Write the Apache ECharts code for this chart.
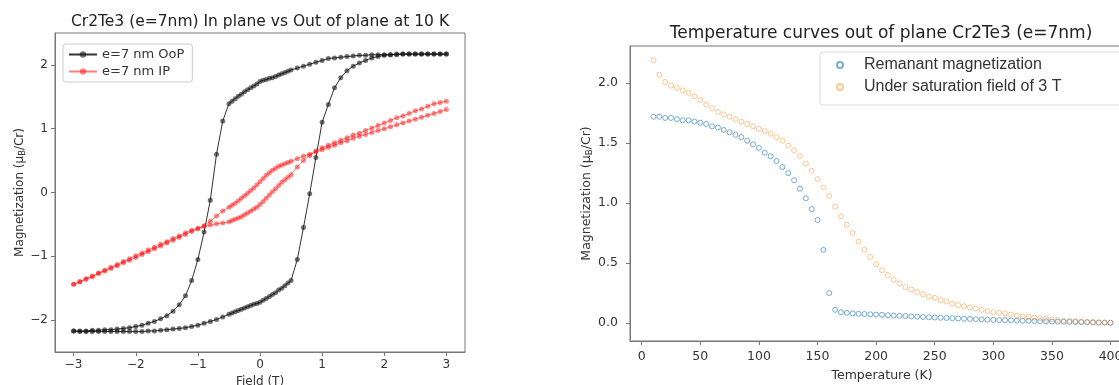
<!DOCTYPE html>
<html>
<head>
<meta charset="utf-8">
<script src="https://cdn.jsdelivr.net/npm/echarts@6/dist/echarts.min.js"></script>
<style>
  html, body { margin: 0; padding: 0; background: #fff; }
  #chart { width: 1119px; height: 385px; }
</style>
</head>
<body>
<div id="chart"></div>
<script>
// ---- left panel: hysteresis loops at 10 K ----
const fieldDown = [3.0, 2.9, 2.8, 2.7, 2.6, 2.5, 2.4, 2.3, 2.2, 2.1, 2.0, 1.9, 1.8, 1.7, 1.6, 1.5, 1.4, 1.3, 1.2, 1.1, 1.0, 0.9, 0.8, 0.7, 0.6,
  0.5, 0.45, 0.4, 0.35, 0.3, 0.25, 0.2, 0.15, 0.1, 0.05, 0, -0.05, -0.1, -0.15, -0.2, -0.25, -0.3, -0.35, -0.4, -0.45, -0.5,
  -0.6, -0.7, -0.8, -0.9, -1.0, -1.1, -1.2, -1.3, -1.4, -1.5, -1.6, -1.7, -1.8, -1.9, -2.0, -2.1, -2.2, -2.3, -2.4, -2.5, -2.6, -2.7, -2.8, -2.9, -3.0];
const fieldUp = [-3.0, -2.9, -2.8, -2.7, -2.6, -2.5, -2.4, -2.3, -2.2, -2.1, -2.0, -1.9, -1.8, -1.7, -1.6, -1.5, -1.4, -1.3, -1.2, -1.1, -1.0, -0.9, -0.8, -0.7, -0.6,
  -0.5, -0.45, -0.4, -0.35, -0.3, -0.25, -0.2, -0.15, -0.1, -0.05, 0, 0.05, 0.1, 0.15, 0.2, 0.25, 0.3, 0.35, 0.4, 0.45, 0.5,
  0.6, 0.7, 0.8, 0.9, 1.0, 1.1, 1.2, 1.3, 1.4, 1.5, 1.6, 1.7, 1.8, 1.9, 2.0, 2.1, 2.2, 2.3, 2.4, 2.5, 2.6, 2.7, 2.8, 2.9, 3.0];

const oopDown = [2.17, 2.17, 2.17, 2.17, 2.17, 2.17, 2.17, 2.17, 2.17, 2.16, 2.16, 2.16, 2.16, 2.15, 2.15, 2.14, 2.13, 2.12, 2.11, 2.10, 2.07, 2.04, 2.01, 1.98, 1.95,
  1.92, 1.90, 1.88, 1.86, 1.84, 1.82, 1.80, 1.79, 1.77, 1.76, 1.74, 1.70, 1.67, 1.64, 1.61, 1.58, 1.54, 1.51, 1.47, 1.43, 1.39,
  1.12, 0.60, -0.12, -0.62, -1.05, -1.38, -1.62, -1.76, -1.86, -1.93, -1.98, -2.02, -2.05, -2.08, -2.10, -2.12, -2.13, -2.14, -2.15, -2.15, -2.16, -2.16, -2.17, -2.17, -2.17];
const oopUp = [-2.17, -2.18, -2.18, -2.18, -2.18, -2.18, -2.18, -2.18, -2.18, -2.18, -2.18, -2.18, -2.17, -2.17, -2.16, -2.15, -2.14, -2.13, -2.12, -2.10, -2.08, -2.05, -2.02, -1.99, -1.95,
  -1.91, -1.89, -1.87, -1.85, -1.83, -1.81, -1.79, -1.77, -1.75, -1.74, -1.72, -1.69, -1.66, -1.63, -1.60, -1.57, -1.53, -1.50, -1.46, -1.42, -1.38,
  -1.05, -0.55, -0.02, 0.55, 1.10, 1.38, 1.64, 1.80, 1.91, 1.98, 2.03, 2.07, 2.11, 2.13, 2.15, 2.16, 2.16, 2.17, 2.17, 2.17, 2.17, 2.17, 2.17, 2.17, 2.17];
const ipDown = [1.30, 1.27, 1.24, 1.21, 1.18, 1.15, 1.12, 1.09, 1.06, 1.03, 1.00, 0.97, 0.94, 0.91, 0.88, 0.85, 0.81, 0.78, 0.74, 0.71, 0.67, 0.64, 0.60, 0.57, 0.53,
  0.49, 0.47, 0.45, 0.43, 0.41, 0.38, 0.35, 0.31, 0.27, 0.22, 0.17, 0.12, 0.07, 0.03, -0.01, -0.05, -0.09, -0.13, -0.17, -0.20, -0.23,
  -0.29, -0.37, -0.45, -0.52, -0.57, -0.61, -0.66, -0.70, -0.75, -0.79, -0.84, -0.88, -0.93, -0.97, -1.02, -1.06, -1.10, -1.15, -1.19, -1.23, -1.27, -1.32, -1.36, -1.40, -1.44];
const ipUp = [-1.44, -1.40, -1.35, -1.31, -1.26, -1.22, -1.17, -1.13, -1.08, -1.04, -0.99, -0.95, -0.90, -0.86, -0.81, -0.77, -0.72, -0.68, -0.63, -0.59, -0.56, -0.53, -0.51, -0.49, -0.48,
  -0.46, -0.44, -0.42, -0.40, -0.38, -0.35, -0.32, -0.29, -0.26, -0.23, -0.19, -0.14, -0.09, -0.04, 0.01, 0.06, 0.11, 0.16, 0.20, 0.24, 0.28,
  0.40, 0.50, 0.58, 0.65, 0.70, 0.74, 0.78, 0.82, 0.86, 0.90, 0.93, 0.97, 1.01, 1.05, 1.09, 1.13, 1.17, 1.20, 1.24, 1.28, 1.31, 1.35, 1.39, 1.41, 1.43];

// ---- right panel: temperature curves ----
const temps = [10, 15, 20, 25, 30, 35, 40, 45, 50, 55, 60, 65, 70, 75, 80, 85, 90, 95, 100, 105, 110, 115, 120, 125, 130, 135, 140, 145, 150, 155,
  160, 165, 170, 175, 180, 185, 190, 195, 200, 205, 210, 215, 220, 225, 230, 235, 240, 245, 250, 255, 260, 265, 270, 275, 280, 285, 290, 295, 300,
  305, 310, 315, 320, 325, 330, 335, 340, 345, 350, 355, 360, 365, 370, 375, 380, 385, 390, 395, 400];
const remanent = [1.72, 1.72, 1.71, 1.71, 1.70, 1.69, 1.69, 1.68, 1.67, 1.66, 1.64, 1.63, 1.61, 1.59, 1.57, 1.55, 1.52, 1.49, 1.46, 1.42, 1.39, 1.35, 1.30, 1.25, 1.19, 1.12, 1.04, 0.95, 0.86, 0.61,
  0.25, 0.11, 0.09, 0.085, 0.08, 0.078, 0.075, 0.072, 0.07, 0.068, 0.065, 0.062, 0.06, 0.058, 0.055, 0.053, 0.05, 0.048, 0.046, 0.044, 0.042, 0.04, 0.038, 0.036, 0.034, 0.032, 0.03, 0.028, 0.026,
  0.025, 0.024, 0.022, 0.02, 0.019, 0.018, 0.016, 0.015, 0.014, 0.012, 0.011, 0.01, 0.009, 0.008, 0.007, 0.006, 0.005, 0.004, 0.003, 0.002];
const saturation = [2.19, 2.07, 2.01, 1.98, 1.96, 1.94, 1.92, 1.89, 1.86, 1.82, 1.79, 1.76, 1.74, 1.72, 1.70, 1.68, 1.66, 1.64, 1.62, 1.60, 1.58, 1.55, 1.52, 1.48, 1.44, 1.39, 1.33, 1.27, 1.20, 1.13,
  1.06, 0.97, 0.89, 0.82, 0.75, 0.68, 0.61, 0.55, 0.49, 0.44, 0.40, 0.36, 0.33, 0.30, 0.28, 0.26, 0.24, 0.22, 0.21, 0.19, 0.18, 0.16, 0.15, 0.14, 0.13, 0.12, 0.11, 0.10, 0.09,
  0.085, 0.08, 0.07, 0.06, 0.055, 0.05, 0.045, 0.04, 0.035, 0.03, 0.025, 0.02, 0.018, 0.015, 0.012, 0.01, 0.008, 0.006, 0.004, 0.002];

// tick labels
const fieldTicks = [-3, -2, -1, 0, 1, 2, 3];
const momentTicks = [-2, -1, 0, 1, 2];
const tempTicks = [0, 50, 100, 150, 200, 250, 300, 350, 400];
const momentTicksT = [0, 0.5, 1.0, 1.5, 2.0];

const FONT = 'DejaVu Sans';
const zip = (xs, ys) => xs.map((x, i) => [x, ys[i]]);
const fmtInt = v => String(v).replace('-', '\u2212');

function valueAxis(grid, min, max, ticks, fmt, name, gap, size, margin) {
  return {
    type: 'value', gridIndex: grid, min: min, max: max,
    name: name, nameLocation: 'middle', nameGap: gap,
    nameTextStyle: {
      fontFamily: FONT, fontSize: size, color: '#333',
      rich: { s: { fontFamily: FONT, fontSize: size * 0.7, color: '#333', padding: [5, 0, 0, 0] } }
    },
    axisLine: { show: true, onZero: false, lineStyle: { color: '#777', width: 1 } },
    axisTick: { show: true, customValues: ticks, length: 4, lineStyle: { color: '#777' } },
    axisLabel: { customValues: ticks, formatter: fmt, fontFamily: FONT, fontSize: size, color: '#333', margin: margin },
    splitLine: { show: false }
  };
}

const chart = echarts.init(document.getElementById('chart'));
chart.setOption({
  animation: false,
  backgroundColor: '#fff',
  grid: [
    { left: 55, right: 654, top: 33, bottom: 33, outerBoundsMode: 'none', show: true, borderColor: '#777', borderWidth: 1 },
    { left: 630, width: 504, top: 46, bottom: 44, outerBoundsMode: 'none', show: true, borderColor: '#777', borderWidth: 1 }
  ],
  graphic: [
    { type: 'text', x: 260, y: 22, style: { text: 'Cr2Te3 (e=7nm) In plane vs Out of plane at 10 K', fontFamily: FONT, fontSize: 15.5, fill: '#222', align: 'center', verticalAlign: 'middle' } },
    { type: 'text', x: 881, y: 34, style: { text: 'Temperature curves out of plane Cr2Te3 (e=7nm)', fontFamily: FONT, fontSize: 17, fill: '#222', align: 'center', verticalAlign: 'middle' } }
  ],
  xAxis: [
    valueAxis(0, -3.3, 3.3, fieldTicks, fmtInt, 'Field (T)', 20, 12, 7),
    valueAxis(1, -10, 420, tempTicks, v => String(v), 'Temperature (K)', 28, 12.5, 9)
  ],
  yAxis: [
    valueAxis(0, -2.5, 2.5, momentTicks, fmtInt, 'Magnetization (μ{s|B}/Cr)', 28, 12, 7),
    valueAxis(1, -0.15, 2.31, momentTicksT, v => v.toFixed(1), 'Magnetization (μ{s|B}/Cr)', 34, 12.5, 12)
  ],
  legend: [
    {
      data: ['e=7 nm OoP', 'e=7 nm IP'], orient: 'vertical', left: 63, top: 44,
      itemWidth: 28, itemHeight: 8, itemGap: 4, padding: [4, 8, 4, 5],
      borderColor: '#ccc', borderWidth: 1, borderRadius: 3, backgroundColor: 'rgba(255,255,255,0.8)',
      textStyle: { fontFamily: FONT, fontSize: 13, color: '#333' }
    },
    {
      data: ['Remanant magnetization', 'Under saturation field of 3 T'], orient: 'vertical', left: 820, top: 52,
      itemWidth: 10, itemHeight: 6, itemGap: 6, padding: [5, 80, 10, 16],
      borderColor: '#ddd', borderWidth: 1, borderRadius: 3, backgroundColor: 'rgba(255,255,255,0.8)',
      textStyle: { fontFamily: 'Liberation Sans', fontSize: 16, color: '#333', padding: [0, 0, 0, 14] }
    }
  ],
  series: [
    { name: 'e=7 nm OoP', type: 'line', xAxisIndex: 0, yAxisIndex: 0, data: zip(fieldDown, oopDown),
      symbol: 'circle', symbolSize: 5, lineStyle: { color: 'rgba(0,0,0,0.8)', width: 1 },
      itemStyle: { color: 'rgba(20,20,20,0.6)' } },
    { name: 'e=7 nm OoP', type: 'line', xAxisIndex: 0, yAxisIndex: 0, data: zip(fieldUp, oopUp),
      symbol: 'circle', symbolSize: 5, lineStyle: { color: 'rgba(0,0,0,0.8)', width: 1 },
      itemStyle: { color: 'rgba(20,20,20,0.6)' } },
    { name: 'e=7 nm IP', type: 'line', xAxisIndex: 0, yAxisIndex: 0, data: zip(fieldDown, ipDown),
      symbol: 'circle', symbolSize: 5, lineStyle: { color: 'rgba(255,0,0,0.5)', width: 1 },
      itemStyle: { color: 'rgba(255,20,20,0.5)' } },
    { name: 'e=7 nm IP', type: 'line', xAxisIndex: 0, yAxisIndex: 0, data: zip(fieldUp, ipUp),
      symbol: 'circle', symbolSize: 5, lineStyle: { color: 'rgba(255,0,0,0.5)', width: 1 },
      itemStyle: { color: 'rgba(255,20,20,0.5)' } },
    { name: 'Remanant magnetization', type: 'scatter', xAxisIndex: 1, yAxisIndex: 1, data: zip(temps, remanent),
      symbol: 'circle', symbolSize: 5,
      itemStyle: { color: 'rgba(255,255,255,0)', borderColor: 'rgba(31,119,180,0.75)', borderWidth: 1 } },
    { name: 'Under saturation field of 3 T', type: 'scatter', xAxisIndex: 1, yAxisIndex: 1, data: zip(temps, saturation),
      symbol: 'circle', symbolSize: 5,
      itemStyle: { color: 'rgba(255,255,255,0)', borderColor: 'rgba(255,127,14,0.55)', borderWidth: 1 } }
  ]
});
</script>
</body>
</html>
